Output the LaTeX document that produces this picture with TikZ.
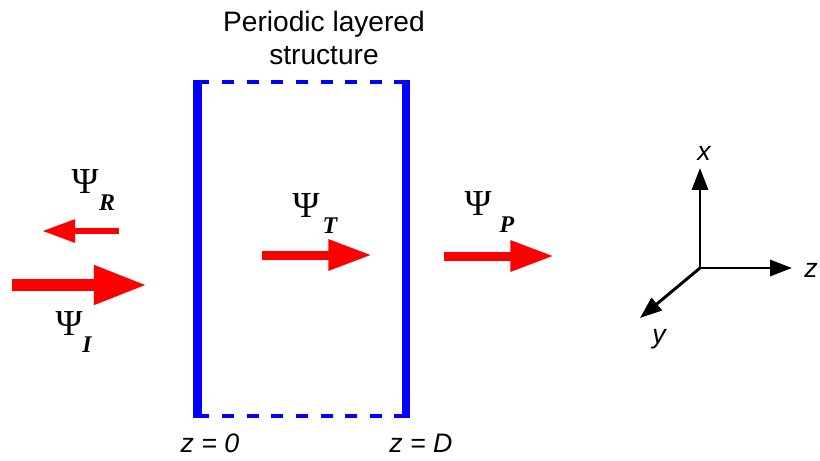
\documentclass[tikz,border=0pt]{standalone}
\usepackage{fontspec}
\setmainfont{Liberation Sans}
\newfontfamily\psifont{Liberation Serif}
\usetikzlibrary{arrows.meta}

\begin{document}
\begin{tikzpicture}[x=0.025cm, y=-0.025cm,
    wall/.style={blue, line width=5.7pt},
    open/.style={blue, line width=2.8pt, dash pattern=on 8.5pt off 9pt},
    bigwave/.style={red, line width=9.2pt, -{Triangle[length=38.5pt, width=25.6pt]}},
    midwave/.style={red, line width=6.4pt, -{Triangle[length=31pt, width=20.6pt]}},
    smallwave/.style={red, line width=4.3pt, -{Triangle[length=23.5pt, width=15.6pt]}},
    axis/.style={line width=2.1pt, -{Triangle[length=15.6pt, width=11.4pt]}},
    psi/.style={font=\psifont\fontsize{26}{26}\selectfont, inner sep=0pt, anchor=base},
    sub/.style={font=\psifont\bfseries\itshape\fontsize{17}{17}\selectfont, inner sep=0pt, anchor=base},
    lbl/.style={font=\itshape\fontsize{19}{19}\selectfont, inner sep=0pt, anchor=base}
]
\useasboundingbox (0,0) rectangle (820,460);

% Layered structure
\coordinate (tl) at (197.5,82);
\coordinate (tr) at (406,82);
\coordinate (bl) at (197.5,416);
\coordinate (br) at (406,416);
\draw[open] (tl) -- (tr);
\draw[open] (bl) -- (br);
\draw[wall] (197.5,80) -- (197.5,418);
\draw[wall] (406,80) -- (406,418);
\node[align=center, font=\fontsize{20}{22.8}\selectfont, inner sep=0pt, anchor=base] (head) at (324,64) {Periodic layered\\structure};
\node[lbl] (z0) at (210,452) {z = 0};
\node[lbl] (zD) at (421,452) {z = D};

% Waves
\coordinate (i0) at (12,285);
\coordinate (i1) at (148,285);
\coordinate (r0) at (119,231);
\coordinate (r1) at (42,231);
\coordinate (t0) at (262,255);
\coordinate (t1) at (372,255);
\coordinate (p0) at (444,256);
\coordinate (p1) at (554,256);
\draw[bigwave] (i0) -- (i1);
\draw[smallwave] (r0) -- (r1);
\draw[midwave] (t0) -- (t1);
\draw[midwave] (p0) -- (p1);

% Wave labels
\node[psi] (psiR) at (85,193) {Ψ};
\node[sub] (subR) at (107,210) {R};
\node[psi] (psiI) at (69,335) {Ψ};
\node[sub] (subI) at (87,352) {I};
\node[psi] (psiT) at (306,217) {Ψ};
\node[sub] (subT) at (330,233) {T};
\node[psi] (psiP) at (478,215) {Ψ};
\node[sub] (subP) at (507,232) {P};

% Axes
\coordinate (o) at (700,268);
\coordinate (ax) at (700,168);
\coordinate (az) at (792,268);
\coordinate (ay) at (640,318);
\draw[axis] (o) -- (ax);
\draw[axis] (o) -- (az);
\draw[axis] (o) -- (ay);
\node[lbl] (lx) at (704,160) {x};
\node[lbl] (lz) at (811,277) {z};
\node[lbl] (ly) at (659,343) {y};

\end{tikzpicture}
\end{document}
